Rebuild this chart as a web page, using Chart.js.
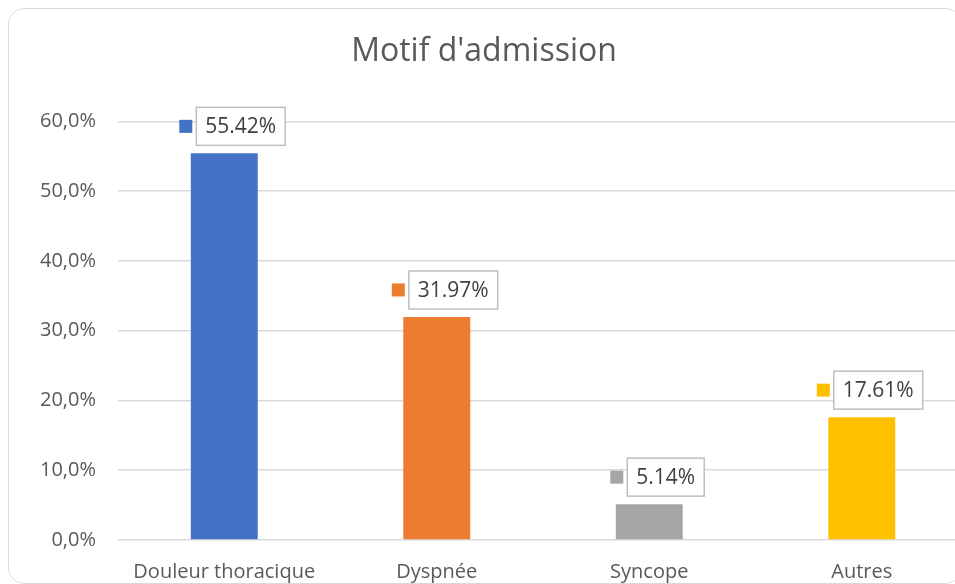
<!DOCTYPE html>
<html>
<head>
<meta charset="utf-8">
<script src="https://cdn.jsdelivr.net/npm/chart.js@4"></script>
<style>
    html, body { margin: 0; padding: 0; background: #fff; overflow: hidden; }
    #wrap { position: relative; width: 968px; height: 584px; }
    #frame {
        position: absolute; left: 8px; top: 8px; width: 954px; height: 576px;
        border: 1.5px solid #d9d9d9; border-radius: 16px; box-sizing: border-box;
        pointer-events: none;
    }
</style>
</head>
<body>
<div id="wrap">
    <canvas id="chartMotif" width="968" height="584"></canvas>
    <div id="frame"></div>
</div>
<script>
const categories = ['Douleur thoracique', 'Dyspnée', 'Syncope', 'Autres'];
const values = [55.42, 31.97, 5.14, 17.61];
const barColors = ['#4472C4', '#ED7D31', '#A5A5A5', '#FFC000'];
const yTicks = [0, 10, 20, 30, 40, 50, 60];

// Étiquettes de données avec clé de légende
const labelBoxes = {
    id: 'labelBoxes',
    afterDatasetsDraw(chart) {
        const ctx = chart.ctx;
        const meta = chart.getDatasetMeta(0);
        ctx.save();
        ctx.font = '21px "Open Sans"';
        meta.data.forEach(function(bar, i) {
            const text = values[i].toFixed(2) + '%';
            const tw = ctx.measureText(text).width;
            const bw = tw + 18, bh = 38, sq = 13, gap = 4;
            const total = sq + gap + bw;
            const left = bar.x + 8 - total / 2;
            const top = bar.y - 8 - bh;
            ctx.fillStyle = barColors[i];
            ctx.fillRect(left, top + bh / 2 - sq / 2, sq, sq);
            const bx = left + sq + gap;
            ctx.fillStyle = '#fff';
            ctx.fillRect(bx, top, bw, bh);
            ctx.strokeStyle = '#bfbfbf';
            ctx.lineWidth = 1.5;
            ctx.strokeRect(bx, top, bw, bh);
            ctx.fillStyle = '#404040';
            ctx.textAlign = 'center';
            ctx.textBaseline = 'middle';
            ctx.fillText(text, bx + bw / 2, top + bh / 2 + 1);
        });
        ctx.restore();
    }
};

const ctxMotif = document.getElementById('chartMotif').getContext('2d');
new Chart(ctxMotif, {
    type: 'bar',
    data: {
        labels: categories,
        datasets: [{
            data: values,
            backgroundColor: barColors,
            barPercentage: 1,
            categoryPercentage: 0.315
        }]
    },
    options: {
        responsive: false,
        animation: false,
        layout: { padding: 0 },
        plugins: {
            legend: { display: false },
            tooltip: { enabled: false },
            title: {
                display: true,
                text: "Motif d'admission",
                color: '#595959',
                font: { family: '"Open Sans"', size: 32, weight: 'normal' },
                padding: { top: 33, bottom: 50 }
            }
        },
        scales: {
            x: {
                afterFit: function(scale) { scale.height = 44; },
                grid: { display: false },
                border: { display: false },
                ticks: {
                    color: '#595959',
                    font: { family: '"Open Sans"', size: 20 },
                    padding: 12,
                    maxRotation: 0
                }
            },
            y: {
                min: 0,
                max: 60,
                afterFit: function(scale) { scale.width = 118; },
                afterBuildTicks: function(scale) {
                    scale.ticks = yTicks.map(function(v) { return { value: v }; });
                },
                grid: { color: '#d9d9d9', lineWidth: 1.5, drawTicks: false },
                border: { display: false },
                ticks: {
                    color: '#595959',
                    font: { family: '"Open Sans"', size: 20 },
                    padding: 22,
                    callback: function(v) { return v.toFixed(1).replace('.', ',') + '%'; }
                }
            }
        }
    },
    plugins: [labelBoxes]
});
</script>
</body>
</html>
